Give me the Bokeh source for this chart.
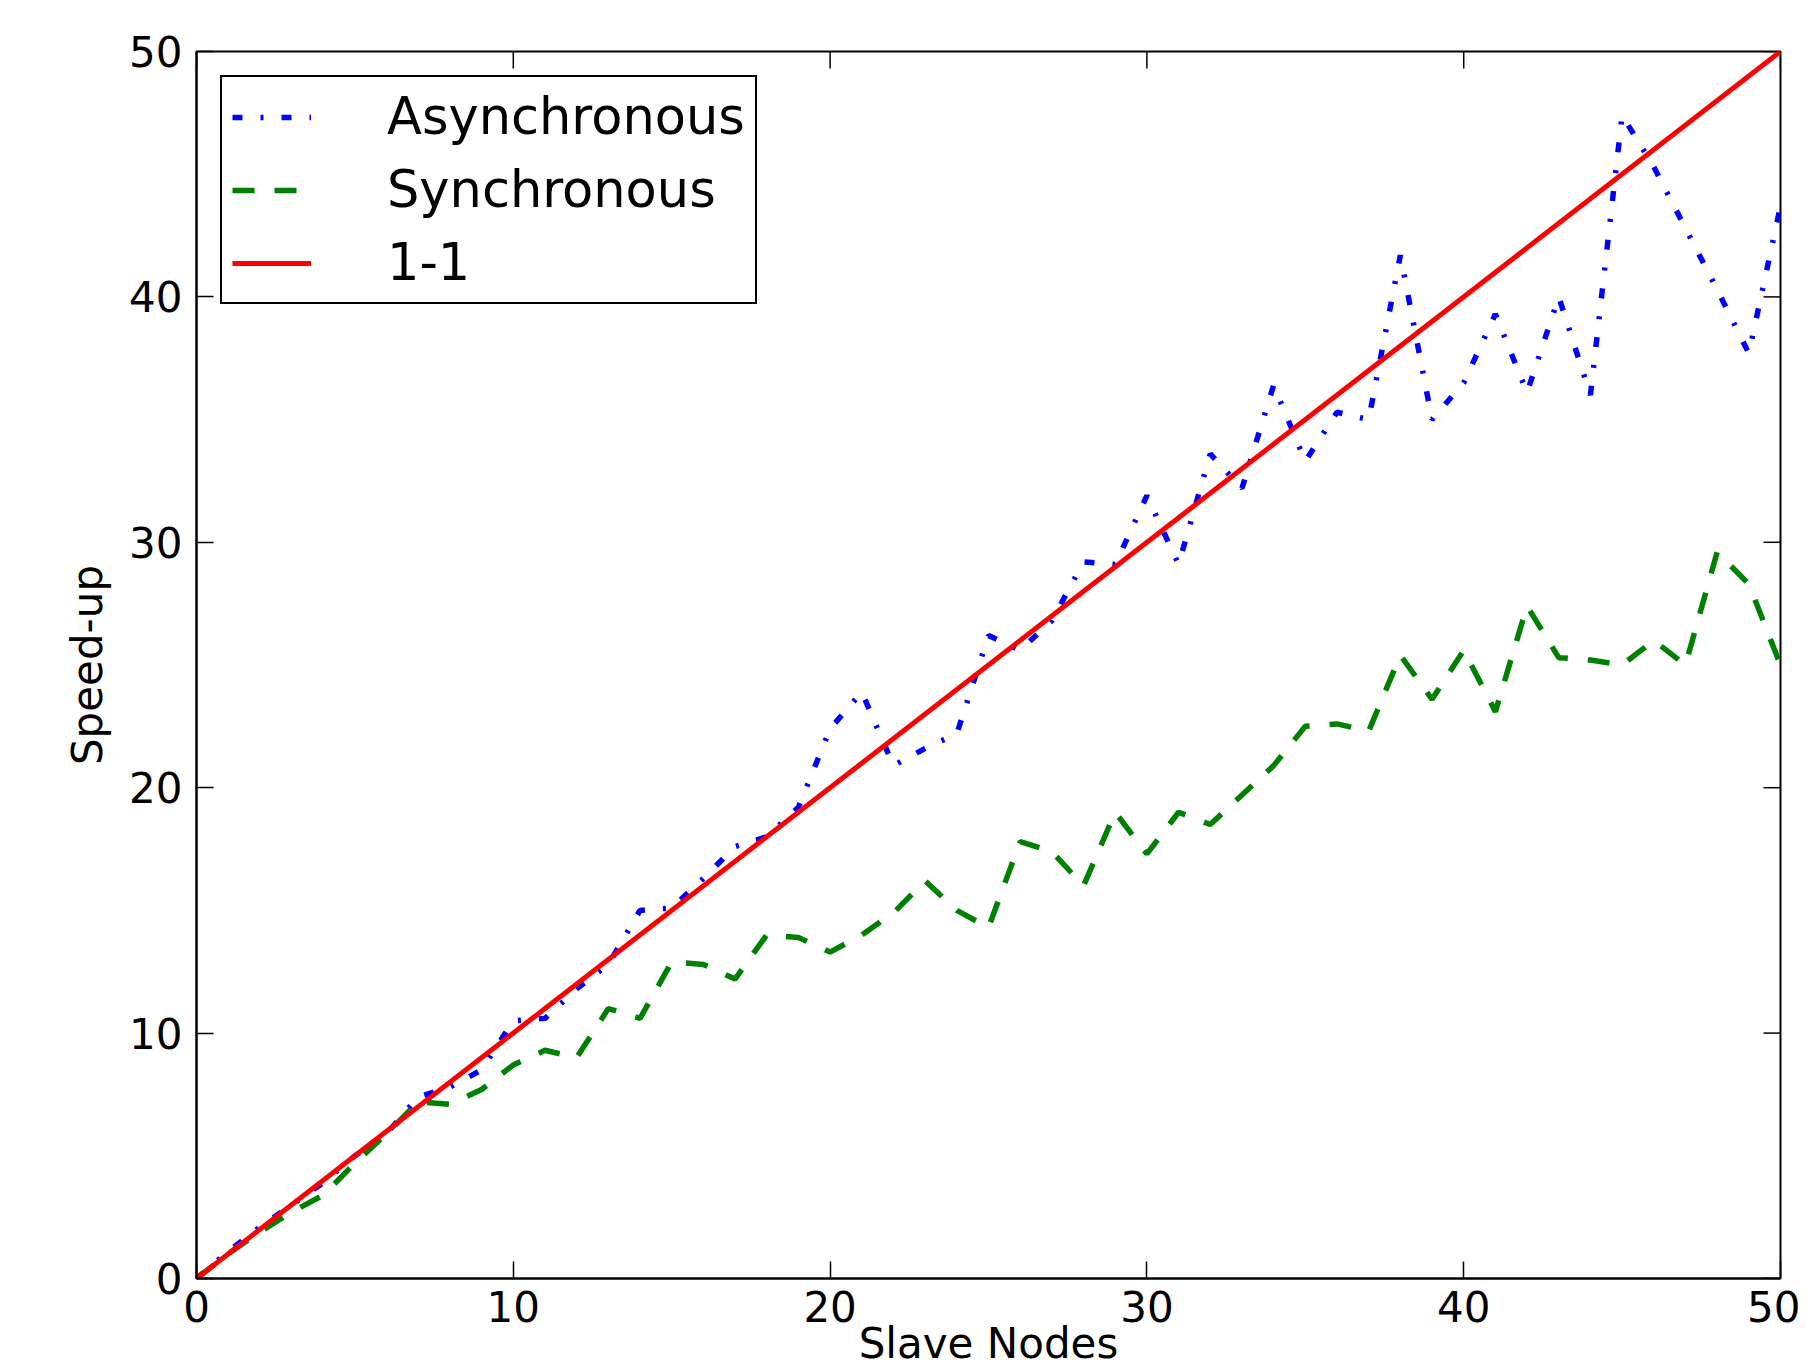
import math
from bokeh.plotting import figure
from bokeh.models import (Range1d, FixedTicker, LinearAxis, Legend, LegendItem)
from bokeh.embed import file_html
from bokeh.resources import INLINE

# ---- data ----
nodes = list(range(0, 51))
asynchronous = [0, 1.1, 2.1, 3.0, 3.9, 5.0, 5.9, 7.4, 7.8, 8.5,
                10.5, 10.6, 11.8, 12.8, 15.0, 15.1, 16.3, 17.6, 18.0, 19.2,
                22.4, 23.9, 20.9, 21.6, 22.2, 26.2, 25.6, 26.8, 29.2, 29.1,
                31.9, 29.1, 33.6, 32.2, 36.4, 33.3, 35.3, 35.0, 41.7, 35.0,
                36.5, 39.3, 36.1, 40.0, 36.0, 47.4, 45.3, 42.8, 40.3, 37.7,
                43.7]
synchronous = [0, 1.0, 1.9, 2.7, 3.4, 4.7, 5.9, 7.2, 7.1, 7.7,
               8.7, 9.3, 9.0, 11.0, 10.6, 12.9, 12.8, 12.2, 14.0, 13.9,
               13.3, 14.0, 14.9, 16.2, 15.0, 14.3, 17.8, 17.4, 16.0, 19.0,
               17.3, 19.0, 18.5, 19.7, 20.9, 22.5, 22.6, 22.3, 25.4, 23.6,
               25.6, 23.1, 27.4, 25.3, 25.2, 25.0, 26.0, 25.0, 29.6, 28.3,
               25.0]
one_to_one_x = [0, 50]
one_to_one_y = [0, 50]
ticks = [0, 10, 20, 30, 40, 50]
axis_max = 50
series_names = ["Asynchronous", "Synchronous", "1-1"]

FONT = "DejaVu Sans"
TICK_LEN = 17

p = figure(width=1800, height=1370, output_backend="svg", toolbar_location=None,
           x_range=Range1d(0, axis_max), y_range=Range1d(0, axis_max),
           min_border_left=196, min_border_right=20, min_border_top=51,
           min_border_bottom=91, x_axis_location=None, y_axis_location=None)
p.xgrid.visible = False
p.ygrid.visible = False
p.outline_line_color = "black"
p.outline_line_width = 2
p.background_fill_color = "white"
p.border_fill_color = "white"

def make_axis():
    ax = LinearAxis(ticker=FixedTicker(ticks=ticks))
    ax.major_tick_in = TICK_LEN
    ax.major_tick_out = 0
    ax.major_tick_line_color = "black"
    ax.major_tick_line_width = 1.5
    ax.minor_tick_line_color = None
    ax.axis_line_color = "black"
    ax.axis_line_width = 2
    ax.major_label_text_font = FONT
    ax.major_label_text_color = "black"
    ax.major_label_text_font_size = "42px"
    ax.axis_label_text_font = FONT
    ax.axis_label_text_font_size = "42px"
    ax.axis_label_text_font_style = "normal"
    ax.axis_label_text_color = "black"
    return ax

xb = make_axis()
xb.major_label_standoff = 12
xb.axis_label = "Slave Nodes"
xb.axis_label_standoff = -6
yl = make_axis()
yl.major_label_standoff = 14
yl.axis_label = "Speed-up"
yl.axis_label_standoff = 14
p.add_layout(xb, "below")
p.add_layout(yl, "left")

# inward tick marks on the top and right edges of the frame
p.ray(x=ticks, y=[axis_max] * len(ticks), length=TICK_LEN, length_units="screen",
      angle=-math.pi / 2, line_color="black", line_width=1.5)
p.ray(x=[axis_max] * len(ticks), y=ticks, length=TICK_LEN, length_units="screen",
      angle=math.pi, line_color="black", line_width=1.5)

r_async = p.line(nodes, asynchronous, line_color="#0000ff", line_width=5.5,
                 line_dash="10 18 3 18")
r_sync = p.line(nodes, synchronous, line_color="#008000", line_width=5.5,
                line_dash="22 20")
r_one = p.line(one_to_one_x, one_to_one_y, line_color="#ff0000", line_width=5)

legend = Legend(items=[LegendItem(label=series_names[0], renderers=[r_async]),
                       LegendItem(label=series_names[1], renderers=[r_sync]),
                       LegendItem(label=series_names[2], renderers=[r_one])],
                location="top_left")
legend.margin = 24
legend.padding = 10
legend.spacing = 14
legend.glyph_width = 79
legend.glyph_height = 58
legend.label_height = 58
legend.label_standoff = 76
legend.label_text_font = FONT
legend.label_text_font_size = "51px"
legend.label_text_color = "black"
legend.border_line_color = "black"
legend.border_line_alpha = 1.0
legend.border_line_width = 2.5
legend.background_fill_color = "white"
legend.background_fill_alpha = 1.0
p.add_layout(legend)

open("out.html", "w").write(file_html(p, INLINE))
